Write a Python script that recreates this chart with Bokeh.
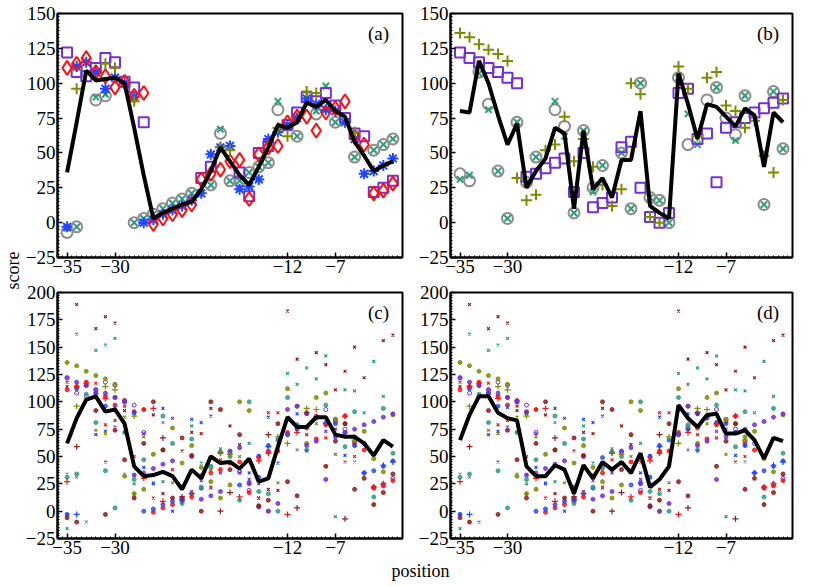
import math
import numpy as np
from bokeh.plotting import figure
from bokeh.layouts import row, column
from bokeh.models import Range1d, FixedTicker, Label
from bokeh.embed import file_html
from bokeh.resources import INLINE

N = None
positions = list(range(-35, 0))
x_tick_values = [-35, -30, -12, -7]
x_tick_labels = ["\u221235", "\u221230", "\u221212", "\u22127"]
y_ticks_top = [-25, 0, 25, 50, 75, 100, 125, 150]
y_ticks_bottom = [-25, 0, 25, 50, 75, 100, 125, 150, 175, 200]

# ---- panel (a) ----
line_a = [36, 72, 109, 102, 103, 104, 100, 68, 34, 3, 7, 10, 13, 15, 24, 37, 54, 44, 34, 27,
          40, 54, 70, 68, 72, 86, 83, 88, 80, 76, 58, 48, 37, 41, 44]
purple_a = [122, 108, 105, 111, 118, 115, 101, 97, 72, N, N, N, N, N, 32, 40, N, N, 36, 19,
            50, 55, N, 70, 79, 90, 87, 93, 84, 75, 64, 62, 22, 25, 30]
red_a = [111, 114, 118, 108, 105, 97, 101, 91, 93, -1, 3, 6, 9, 13, 31, 35, 38, 44, 45, 17,
         49, 54, 55, 72, 76, 76, 66, 79, 82, 87, 62, 56, 21, 23, 28]
blue_a = [-3, 112, 115, 108, 96, 104, 100, 90, 0, 2, 6, 9, 12, 16, 21, 49, 54, 55, 24, 26,
          31, 60, 65, 70, 75, 89, 85, 81, 80, 72, 60, 35, 37, 41, 46]
olive_a = [N, 96, N, N, 114, 111, N, 87, N, N, N, N, N, N, N, N, 54, 52, N, N,
           N, N, 68, 62, N, 94, 93, N, N, N, 65, N, N, N, N]
gray_a = [-7, -3, N, 88, 91, N, N, 0, 3, 6, 10, 14, 17, 21, N, 27, 64, 30, 30, 36,
          40, 43, 81, N, 62, N, 78, N, 72, N, 47, N, 52, 56, 60]
teal_a = [-4, -3, N, 90, 92, N, N, 0, 3, 6, 10, 14, 17, 21, N, 27, 67, 30, 30, 36,
          40, 43, 87, N, 62, N, 80, 98, 72, N, 47, N, 52, 56, 60]

# ---- panel (b) ----
line_b = [80, 79, 116, 100, 77, 56, 71, 25, 37, 46, 68, 64, 10, 66, 24, 32, 18, 45, 45, 80,
          12, 7, 3, 107, 85, 60, 85, 83, 76, 69, 82, 77, 40, 79, 72]
olive_b = [136, 133, 128, 124, 121, 116, 32, 16, 20, 52, 56, 76, 44, 60, 40, 27, 12, 24, 100, 92,
           4, 0, N, 112, 96, 62, 104, 108, 84, 80, 68, 73, 48, 36, 88]
purple_b = [122, 118, 115, 111, 108, 104, 100, 33, 35, 39, 43, 46, 22, 50, 11, 14, 18, 54, 58, 25,
            4, 0, 7, 93, 96, 60, 64, 29, 68, 72, 75, 79, 82, 86, 89]
gray_b = [35, 30, 108, 85, 37, 3, 72, 29, 47, N, 81, 69, 7, 66, 25, 41, N, 50, 10, 100,
          18, 16, 0, 104, 56, N, 88, 97, 75, 63, 91, N, 13, 94, 53]
teal_b = [31, 34, 107, 81, 37, 3, 72, 29, 47, N, 87, 62, 7, 66, 22, 41, N, 50, 10, 100,
          18, 16, 0, 104, 78, 56, N, 97, N, 59, 91, N, 13, 94, 53]

# ---- panels (c), (d) ----
line_c = [62, 85, 102, 105, 91, 93, 80, 41, 32, 33, 36, 32, 20, 38, 30, 50, 44, 45, 39, 48,
          27, 30, 59, 86, 77, 77, 86, 86, 70, 68, 68, 62, 51, 65, 59]
line_d = [65, 88, 105, 105, 90, 85, 83, 41, 32, 32, 42, 38, 16, 42, 30, 45, 38, 45, 35, 53,
          22, 29, 41, 97, 85, 77, 88, 89, 71, 71, 74, 65, 48, 67, 64]
maroon_x = [114, 189, N, 167, 178, 172, 92, N, N, 88, 16, N, 55, 72, 71, 94, N, 78, 61, N,
            12, 20, 19, 183, 139, N, 145, 134, 111, 128, 150, 122, N, 156, 161]
teal_x = [-16, 162, -10, 147, 152, 158, 72, 25, N, 26, 27, N, N, 78, 44, 21, 57, N, N, 62,
          N, N, 66, 126, 116, 131, 121, 142, -5, 111, 110, 90, 137, 105, N]
maroon_dot = [-6, -10, N, 92, -3, 74, 47, 12, 62, 100, 56, 12, 67, 51, 0, 100, 93, 38, 70, N,
              5, 10, 80, 27, 14, N, N, 41, 64, 80, 20, 30, 6, 17, 34]
red_plus = [27, 114, 117, N, 103, N, N, N, 30, 94, 9, N, 11, 16, N, N, N, N, 13, N,
            46, 53, N, -3, 72, N, 86, 80, N, 87, N, N, 22, 25, N]
blue_x = [-3, N, N, 70, 73, 95, N, 89, 40, 25, 94, 0, N, 84, 81, N, N, N, N, 35,
          51, 86, 44, N, 89, 55, N, N, N, 51, 60, N, N, N, N]
blue_plus = [N, -3, N, N, N, N, N, N, N, N, N, N, 10, N, N, N, 53, N, N, N,
             N, 59, N, N, N, N, N, N, N, N, N, 35, N, 42, 45]
red_x = [118, N, N, 117, 79, 83, 96, 50, 93, 12, N, 38, N, N, 33, 22, 47, N, N, 45,
         12, 90, 90, N, N, 70, N, 67, N, 45, 50, N, N, N, N]
maroon_plus = [N, 59, N, N, N, N, N, N, N, N, 67, N, 13, N, N, N, 0, 17, N, N,
               N, 70, N, N, 3, 90, N, N, N, -7, N, N, N, N, N]
gray_x = [34, 31, N, N, N, N, 34, N, N, N, 81, N, N, N, N, N, N, N, N, N,
          N, N, N, N, 56, N, N, N, N, N, 45, N, N, N, N]
purple_x = [N, N, N, N, 45, 77, N, 33, 71, N, N, 85, N, 18, 28, 87, 35, N, 35, 29,
            25, N, N, N, N, N, N, 73, 75, N, N, N, N, N, N]
olive_x = [N, N, N, 74, 71, N, 86, 16, 68, N, N, 26, N, 17, N, 38, N, N, 50, N,
           N, N, 26, N, N, N, 80, N, 52, N, N, N, N, N, N]

FONT = "Liberation Serif"
C_GRAY = "#8c8c8c"
C_TEAL = "#2f9c7c"
C_OLIVE = "#7c8c00"
C_BLUE = "#2046ff"
C_PURPLE = "#7430d8"
C_RED = "#ff1010"
C_MAROON = "#8e1c1c"


def arr(v):
    return np.array([np.nan if a is None else a for a in v], dtype=float)


def style_axis(ax, ticks, minor, overrides):
    ax.ticker = FixedTicker(ticks=ticks, minor_ticks=minor)
    ax.major_label_overrides = overrides
    ax.axis_line_color = "black"
    ax.axis_line_width = 2
    ax.major_tick_in = 5
    ax.major_tick_out = 0
    ax.major_tick_line_width = 1.5
    ax.minor_tick_in = 2
    ax.minor_tick_out = 0
    ax.minor_tick_line_width = 1
    ax.major_label_text_font = FONT
    ax.major_label_text_color = "black"
    ax.major_label_text_font_size = "19px"
    ax.major_label_standoff = 2
    ax.axis_label_standoff = 0


def make_panel(ymax, yticks, left, frame_w, right, top, frame_h, bottom, tag, tag_y):
    p = figure(width=left + frame_w + right, height=top + frame_h + bottom,
               x_range=Range1d(-36, 0), y_range=Range1d(-25, ymax),
               output_backend="svg", toolbar_location=None,
               min_border_left=left, min_border_right=right,
               min_border_top=top, min_border_bottom=bottom)
    p.xgrid.visible = False
    p.ygrid.visible = False
    p.outline_line_color = "black"
    p.outline_line_width = 2
    p.background_fill_color = "white"
    p.border_fill_color = "white"
    xminor = [x / 2 for x in range(-72, 1)]
    yminor = [y / 2 for y in range(-50, int(ymax * 2) + 1, 5)]
    yover = {v: ("\u2212" + str(-v) if v < 0 else str(v)) for v in yticks}
    xover = dict(zip(x_tick_values, x_tick_labels))
    style_axis(p.xaxis[0], x_tick_values, xminor, xover)
    style_axis(p.yaxis[0], yticks, yminor, yover)
    p.add_layout(Label(x=-1.4, y=tag_y, text=tag, text_align="right", text_baseline="middle",
                       text_font=FONT, text_font_size="19px", text_color="black"))
    return p


xs = np.array(positions, dtype=float)
LEFT = 35
SCORE_W = 57 - LEFT

# panel (a)
fa = make_panel(150, y_ticks_top, LEFT, 345, 8, 13, 244, 24, "(a)", 136)
fa.scatter(xs, arr(gray_a), marker="circle", size=11, fill_color=None, line_color=C_GRAY, line_width=2)
fa.scatter(xs, arr(teal_a), marker="x", size=9, line_color=C_TEAL, line_width=2)
fa.scatter(xs, arr(purple_a), marker="square", size=10, fill_color=None, line_color=C_PURPLE, line_width=2)
fa.scatter(xs, arr(blue_a), marker="asterisk", size=11, line_color=C_BLUE, line_width=2)
fa.scatter(xs, arr(red_a), marker="diamond", size=14, fill_color=None, line_color=C_RED, line_width=2)
fa.scatter(xs, arr(olive_a), marker="cross", size=11, line_color=C_OLIVE, line_width=2)
fa.line(xs, arr(line_a), line_color="black", line_width=4)

# panel (b)
fb_left = 450 - (SCORE_W + LEFT + 345 + 8)
fb = make_panel(150, y_ticks_top, fb_left, 342, 8, 13, 244, 24, "(b)", 136)
fb.scatter(xs, arr(gray_b), marker="circle", size=11, fill_color=None, line_color=C_GRAY, line_width=2)
fb.scatter(xs, arr(teal_b), marker="x", size=9, line_color=C_TEAL, line_width=2)
fb.scatter(xs, arr(purple_b), marker="square", size=10, fill_color=None, line_color=C_PURPLE, line_width=2)
fb.scatter(xs, arr(olive_b), marker="cross", size=11, line_color=C_OLIVE, line_width=2)
fb.line(xs, arr(line_b), line_color="black", line_width=4)


def small_scatter(p):
    p.scatter(xs, arr(purple_a), marker="circle", size=4, fill_color=None, line_color=C_PURPLE, line_width=1)
    p.scatter(xs, arr(red_a), marker="circle", size=4, fill_color=C_RED, line_color=C_RED, line_width=1, alpha=0.85)
    p.scatter(xs, arr(blue_a), marker="circle", size=4, fill_color=C_BLUE, line_color=C_BLUE, line_width=1, alpha=0.8)
    p.scatter(xs, arr(teal_b), marker="circle", size=4, fill_color=C_TEAL, line_color=C_TEAL, line_width=1, alpha=0.85)
    p.scatter(xs, arr(olive_b), marker="circle", size=4, fill_color=C_OLIVE, line_color=C_OLIVE, line_width=1, alpha=0.85)
    p.scatter(xs, arr(purple_b), marker="circle", size=4, fill_color=C_PURPLE, line_color=C_PURPLE, line_width=1, alpha=0.85)
    p.scatter(xs, arr(maroon_dot), marker="circle", size=4, fill_color=C_MAROON, line_color=C_MAROON, line_width=1, alpha=0.85)
    p.scatter(xs, arr(maroon_x), marker="x", size=4, line_color=C_MAROON, line_width=1.2)
    p.scatter(xs, arr(teal_x), marker="x", size=4, line_color=C_TEAL, line_width=1.2)
    p.scatter(xs, arr(red_x), marker="x", size=4, line_color=C_RED, line_width=1.2)
    p.scatter(xs, arr(blue_x), marker="x", size=4, line_color=C_BLUE, line_width=1.2)
    p.scatter(xs, arr(purple_x), marker="x", size=4, line_color=C_PURPLE, line_width=1.2)
    p.scatter(xs, arr(olive_x), marker="x", size=4, line_color=C_OLIVE, line_width=1.2)
    p.scatter(xs, arr(gray_x), marker="x", size=4, line_color=C_GRAY, line_width=1.2)
    p.scatter(xs, arr(red_plus), marker="cross", size=6, line_color=C_RED, line_width=1.2)
    p.scatter(xs, arr(blue_plus), marker="cross", size=6, line_color=C_BLUE, line_width=1.2)
    p.scatter(xs, arr(maroon_plus), marker="cross", size=6, line_color=C_MAROON, line_width=1.2)
    p.scatter(xs, arr(olive_a), marker="cross", size=6, line_color=C_OLIVE, line_width=1.2)


fc = make_panel(200, y_ticks_bottom, LEFT, 345, 8, 11, 246, 24, "(c)", 182)
small_scatter(fc)
fc.line(xs, arr(line_c), line_color="black", line_width=4)

fd = make_panel(200, y_ticks_bottom, fb_left, 342, 8, 11, 246, 24, "(d)", 182)
small_scatter(fd)
fd.line(xs, arr(line_d), line_color="black", line_width=4)


def blank(w, h):
    p = figure(width=w, height=h, x_range=Range1d(0, 1), y_range=Range1d(0, 1),
               output_backend="svg", toolbar_location=None,
               min_border_left=0, min_border_right=0, min_border_top=0, min_border_bottom=0)
    p.axis.visible = False
    p.xgrid.visible = False
    p.ygrid.visible = False
    p.outline_line_color = None
    return p


TOTAL_H = 584
ROWS_H = (13 + 244 + 24) + (11 + 246 + 24)
score_fig = blank(SCORE_W, TOTAL_H)
score_fig.add_layout(Label(x=SCORE_W / 2 + 1, y=TOTAL_H - 270, x_units="screen", y_units="screen",
                           text="score", angle=math.pi / 2, text_align="center",
                           text_baseline="middle", text_font=FONT, text_font_size="18px",
                           text_color="black"))

pos_w = fa.width + fb.width
pos_h = TOTAL_H - ROWS_H
pos_fig = blank(pos_w, pos_h)
pos_fig.add_layout(Label(x=420 - SCORE_W, y=pos_h - 8, x_units="screen", y_units="screen",
                         text="position", text_align="center", text_baseline="middle",
                         text_font=FONT, text_font_size="18px", text_color="black"))

layout = row(score_fig, column(row(fa, fb), row(fc, fd), pos_fig))

open("out.html", "w").write(file_html(layout, INLINE))
